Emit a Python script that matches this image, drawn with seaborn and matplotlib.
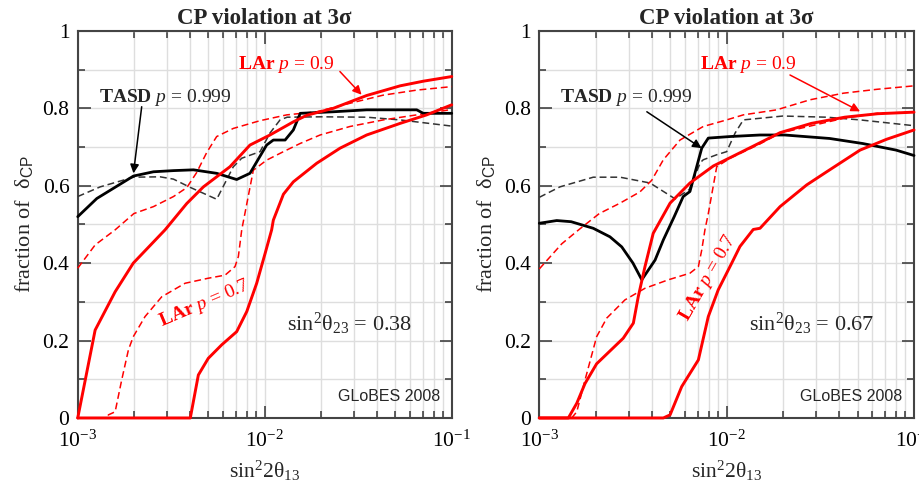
import matplotlib
matplotlib.use("Agg")
import matplotlib.pyplot as plt
import matplotlib.ticker as mticker
import numpy as np
import seaborn as sns

# x values are log10(sin^2 2theta13), y values are fraction of delta_CP

# ---- left panel: sin^2 theta23 = 0.38 ----
l_tasd_x = [-3, -2.898, -2.702, -2.595, -2.488, -2.381, -2.257, -2.15, -2.079, -1.99,
            -1.954, -1.891, -1.847, -1.81, -1.633, -1.455, -1.187, -1.152, -1]
l_tasd_y = [0.52, 0.567, 0.625, 0.636, 0.639, 0.641, 0.632, 0.616, 0.632, 0.705,
            0.718, 0.718, 0.744, 0.787, 0.791, 0.796, 0.796, 0.787, 0.787]
l_tasd_d_x = [-3, -2.88, -2.702, -2.56, -2.488, -2.40, -2.257, -2.168, -2.123, -2.025,
              -1.972, -1.918, -1.88, -1.70, -1.455, -1.277, -1]
l_tasd_d_y = [0.572, 0.597, 0.622, 0.623, 0.617, 0.596, 0.565, 0.649, 0.671, 0.688,
              0.736, 0.77, 0.777, 0.778, 0.777, 0.77, 0.754]
l_lar9_x = [-3, -2.907, -2.80, -2.703, -2.533, -2.417, -2.328, -2.186, -2.079, -1.972,
            -1.847, -1.775, -1.633, -1.455, -1.276, -1.152, -1]
l_lar9_y = [0, 0.227, 0.326, 0.40, 0.486, 0.554, 0.597, 0.649, 0.705, 0.731,
            0.765, 0.782, 0.80, 0.833, 0.858, 0.870, 0.882]
l_lar9_d_x = [-3, -2.907, -2.80, -2.70, -2.595, -2.488, -2.417, -2.364, -2.31, -2.257,
              -2.168, -2.025, -1.882, -1.722, -1.544, -1.366, -1.187, -1]
l_lar9_d_y = [0.387, 0.447, 0.486, 0.528, 0.546, 0.572, 0.595, 0.634, 0.686, 0.727,
              0.748, 0.768, 0.783, 0.791, 0.813, 0.834, 0.847, 0.856]
l_lar7_x = [-3, -2.398, -2.355, -2.302, -2.23, -2.15, -2.096, -2.043, -1.998, -1.963,
            -1.954, -1.90, -1.847, -1.722, -1.597, -1.455, -1.276, -1.134, -1]
l_lar7_y = [0, 0, 0.111, 0.154, 0.189, 0.223, 0.275, 0.348, 0.425, 0.486,
            0.511, 0.578, 0.61, 0.658, 0.697, 0.731, 0.761, 0.783, 0.809]
l_lar7_d_x = [-3, -2.842, -2.836, -2.80, -2.765, -2.729, -2.703, -2.64, -2.551, -2.426,
              -2.302, -2.212, -2.159, -2.141, -2.123, -2.061, -1.99, -1.90, -1.811,
              -1.704, -1.544, -1.366, -1.187, -1]
l_lar7_d_y = [0, 0, 0.008, 0.016, 0.098, 0.176, 0.21, 0.262, 0.313, 0.348,
              0.361, 0.369, 0.391, 0.417, 0.486, 0.64, 0.666, 0.688, 0.709,
              0.731, 0.753, 0.77, 0.783, 0.797]

# ---- right panel: sin^2 theta23 = 0.67 ----
r_tasd_x = [-3, -2.907, -2.83, -2.712, -2.623, -2.56, -2.50, -2.453, -2.382, -2.338,
            -2.28, -2.232, -2.196, -2.133, -2.098, -1.982, -1.822, -1.69, -1.45,
            -1.274, -1.096, -1]
r_tasd_y = [0.503, 0.51, 0.507, 0.49, 0.468, 0.442, 0.40, 0.357, 0.408, 0.46,
            0.52, 0.572, 0.585, 0.697, 0.723, 0.727, 0.731, 0.731, 0.722,
            0.709, 0.692, 0.678]
r_tasd_d_x = [-3, -2.89, -2.712, -2.569, -2.409, -2.275, -2.20, -2.14, -2.125, -2.053,
              -2.0, -1.955, -1.911, -1.7, -1.466, -1.288, -1]
r_tasd_d_y = [0.57, 0.597, 0.622, 0.622, 0.607, 0.566, 0.59, 0.66, 0.667, 0.68,
              0.688, 0.736, 0.77, 0.78, 0.777, 0.77, 0.755]
r_lar9_x = [-3, -2.845, -2.80, -2.756, -2.694, -2.552, -2.498, -2.472, -2.436, -2.392,
            -2.302, -2.196, -2.071, -1.946, -1.822, -1.715, -1.548, -1.37, -1.192, -1]
r_lar9_y = [0, 0, 0.038, 0.089, 0.14, 0.206, 0.245, 0.313, 0.391, 0.477,
            0.555, 0.607, 0.651, 0.681, 0.711, 0.737, 0.761, 0.777, 0.786, 0.79]
r_lar9_d_x = [-3, -2.88, -2.79, -2.68, -2.569, -2.463, -2.40, -2.338, -2.249, -2.125,
              -2.0, -1.911, -1.733, -1.555, -1.377, -1.199, -1]
r_lar9_d_y = [0.385, 0.45, 0.486, 0.528, 0.555, 0.584, 0.614, 0.667, 0.718, 0.753,
              0.77, 0.783, 0.796, 0.822, 0.839, 0.849, 0.858]
r_lar7_x = [-3, -2.338, -2.302, -2.24, -2.151, -2.098, -2.045, -1.973, -1.929, -1.858,
            -1.822, -1.715, -1.573, -1.466, -1.288, -1.146, -1]
r_lar7_y = [0, 0, 0.008, 0.081, 0.15, 0.262, 0.331, 0.40, 0.443, 0.487,
            0.49, 0.546, 0.602, 0.636, 0.692, 0.72, 0.744]
r_lar7_d_x = [-3, -2.827, -2.80, -2.756, -2.694, -2.64, -2.543, -2.436, -2.311, -2.196,
              -2.151, -2.133, -2.116, -2.098, -2.053, -1.982, -1.822, -1.715, -1.555,
              -1.377, -1.199, -1]
r_lar7_d_y = [0, 0, 0.016, 0.098, 0.21, 0.258, 0.305, 0.335, 0.357, 0.374,
              0.391, 0.434, 0.486, 0.528, 0.649, 0.671, 0.708, 0.736, 0.754,
              0.774, 0.787, 0.79]

theta23_labels = ["0.38", "0.67"]

sns.set_theme(style="ticks")
plt.rcParams["font.family"] = ["Liberation Serif", "DejaVu Serif"]
plt.rcParams["mathtext.fontset"] = "custom"
plt.rcParams["mathtext.rm"] = "Liberation Serif"
plt.rcParams["mathtext.it"] = "Liberation Serif:italic"
plt.rcParams["mathtext.bf"] = "Liberation Serif:bold"
plt.rcParams["mathtext.sf"] = "Liberation Sans"

RED = "#ff0000"
DASH = (0, (4.5, 2.5))


def draw(ax, lx, y, color, ls, lw):
    sns.lineplot(x=np.power(10.0, lx), y=y, ax=ax, color=color, lw=lw,
                 linestyle=ls, sort=False, estimator=None, clip_on=False, zorder=3)


fig = plt.figure(figsize=(9.2, 4.9), dpi=100)
ax_l = fig.add_axes([0.0845, 0.147, 0.4065, 0.790])
ax_r = fig.add_axes([0.5862, 0.147, 0.4073, 0.790])

panels = [
    (ax_l, [(l_tasd_x, l_tasd_y), (l_tasd_d_x, l_tasd_d_y), (l_lar9_x, l_lar9_y),
            (l_lar9_d_x, l_lar9_d_y), (l_lar7_x, l_lar7_y), (l_lar7_d_x, l_lar7_d_y)]),
    (ax_r, [(r_tasd_x, r_tasd_y), (r_tasd_d_x, r_tasd_d_y), (r_lar9_x, r_lar9_y),
            (r_lar9_d_x, r_lar9_d_y), (r_lar7_x, r_lar7_y), (r_lar7_d_x, r_lar7_d_y)]),
]

for ax, curves in panels:
    ax.set_xscale("log")
    ax.set_xlim(1e-3, 1e-1)
    ax.set_ylim(0, 1)
    ax.yaxis.set_major_locator(mticker.MultipleLocator(0.2))
    ax.yaxis.set_minor_locator(mticker.MultipleLocator(0.1))
    ax.yaxis.set_major_formatter(mticker.FormatStrFormatter("%g"))
    ax.grid(True, which="both", color="#dedede", lw=1.0, zorder=0)
    ax.set_axisbelow(True)
    for s in ax.spines.values():
        s.set_color("#444444")
        s.set_linewidth(1.5)
        s.set_visible(True)
    ax.tick_params(which="both", direction="in", top=True, right=True,
                   colors="#333333", labelcolor="black", labelsize=15.5, width=1.1)
    ax.tick_params(which="major", length=9)
    ax.tick_params(which="minor", length=5)
    ax.tick_params(axis="y", which="major", pad=6)
    ax.tick_params(axis="x", which="major", pad=9)

    (tx, ty), (tdx, tdy), (a9x, a9y), (a9dx, a9dy), (a7x, a7y), (a7dx, a7dy) = curves
    draw(ax, tdx, tdy, "#333333", DASH, 1.1)
    draw(ax, a9dx, a9dy, RED, DASH, 1.1)
    draw(ax, a7dx, a7dy, RED, DASH, 1.1)
    draw(ax, tx, ty, "black", "-", 2.0)
    draw(ax, a9x, a9y, RED, "-", 2.1)
    draw(ax, a7x, a7y, RED, "-", 2.1)

    ax.set_title(r"CP violation at 3σ", fontsize=16.5, fontweight="bold", pad=5)
    ax.set_xlabel(r"sin$^2$2θ$_{13}$", fontsize=15.5, labelpad=5)
    ax.set_ylabel(r"fraction of  δ$_{\mathsf{CP}}$", fontsize=16, labelpad=5)

for ax, lab in zip([ax_l, ax_r], theta23_labels):
    ax.text(0.728, 0.242, r"sin$^2$θ$_{23}$ = " + lab, transform=ax.transAxes,
            ha="center", va="center", fontsize=16)
    ax.text(0.968, 0.055, "GLoBES 2008", transform=ax.transAxes, ha="right",
            va="center", fontsize=11.5, family="Liberation Sans")

tasd = r"$\mathbf{TASD}$ $\mathit{p}$ = 0.999"
lar9 = r"$\mathbf{LAr}$ $\mathit{p}$ = 0.9"
lar7 = r"$\mathbf{LAr}$ $\mathit{p}$ = 0.7"
arrow_k = dict(arrowstyle="-|>", lw=1.1, mutation_scale=13, shrinkA=0, shrinkB=0)

# left panel annotations
ax_l.text(0.233, 0.829, tasd, transform=ax_l.transAxes, ha="center", va="center",
          fontsize=14)
ax_l.annotate("", xy=(0.149, 0.632), xytext=(0.171, 0.804), xycoords="axes fraction",
              arrowprops=dict(color="black", **arrow_k))
ax_l.text(0.558, 0.912, lar9, transform=ax_l.transAxes, ha="center", va="center",
          fontsize=14, color=RED)
ax_l.annotate("", xy=(0.759, 0.835), xytext=(0.701, 0.895), xycoords="axes fraction",
              arrowprops=dict(color=RED, **arrow_k))
ax_l.text(0.340, 0.296, lar7, transform=ax_l.transAxes, ha="center", va="center",
          fontsize=14, color=RED, rotation=23)

# right panel annotations
ax_r.text(0.231, 0.829, tasd, transform=ax_r.transAxes, ha="center", va="center",
          fontsize=14)
ax_r.annotate("", xy=(0.433, 0.697), xytext=(0.287, 0.791), xycoords="axes fraction",
              arrowprops=dict(color="black", **arrow_k))
ax_r.text(0.558, 0.912, lar9, transform=ax_r.transAxes, ha="center", va="center",
          fontsize=14, color=RED)
ax_r.annotate("", xy=(0.856, 0.792), xytext=(0.669, 0.886), xycoords="axes fraction",
              arrowprops=dict(color=RED, **arrow_k))
ax_r.text(0.450, 0.362, lar7, transform=ax_r.transAxes, ha="center", va="center",
          fontsize=14, color=RED, rotation=60)

fig.savefig("out.png", dpi=100)
